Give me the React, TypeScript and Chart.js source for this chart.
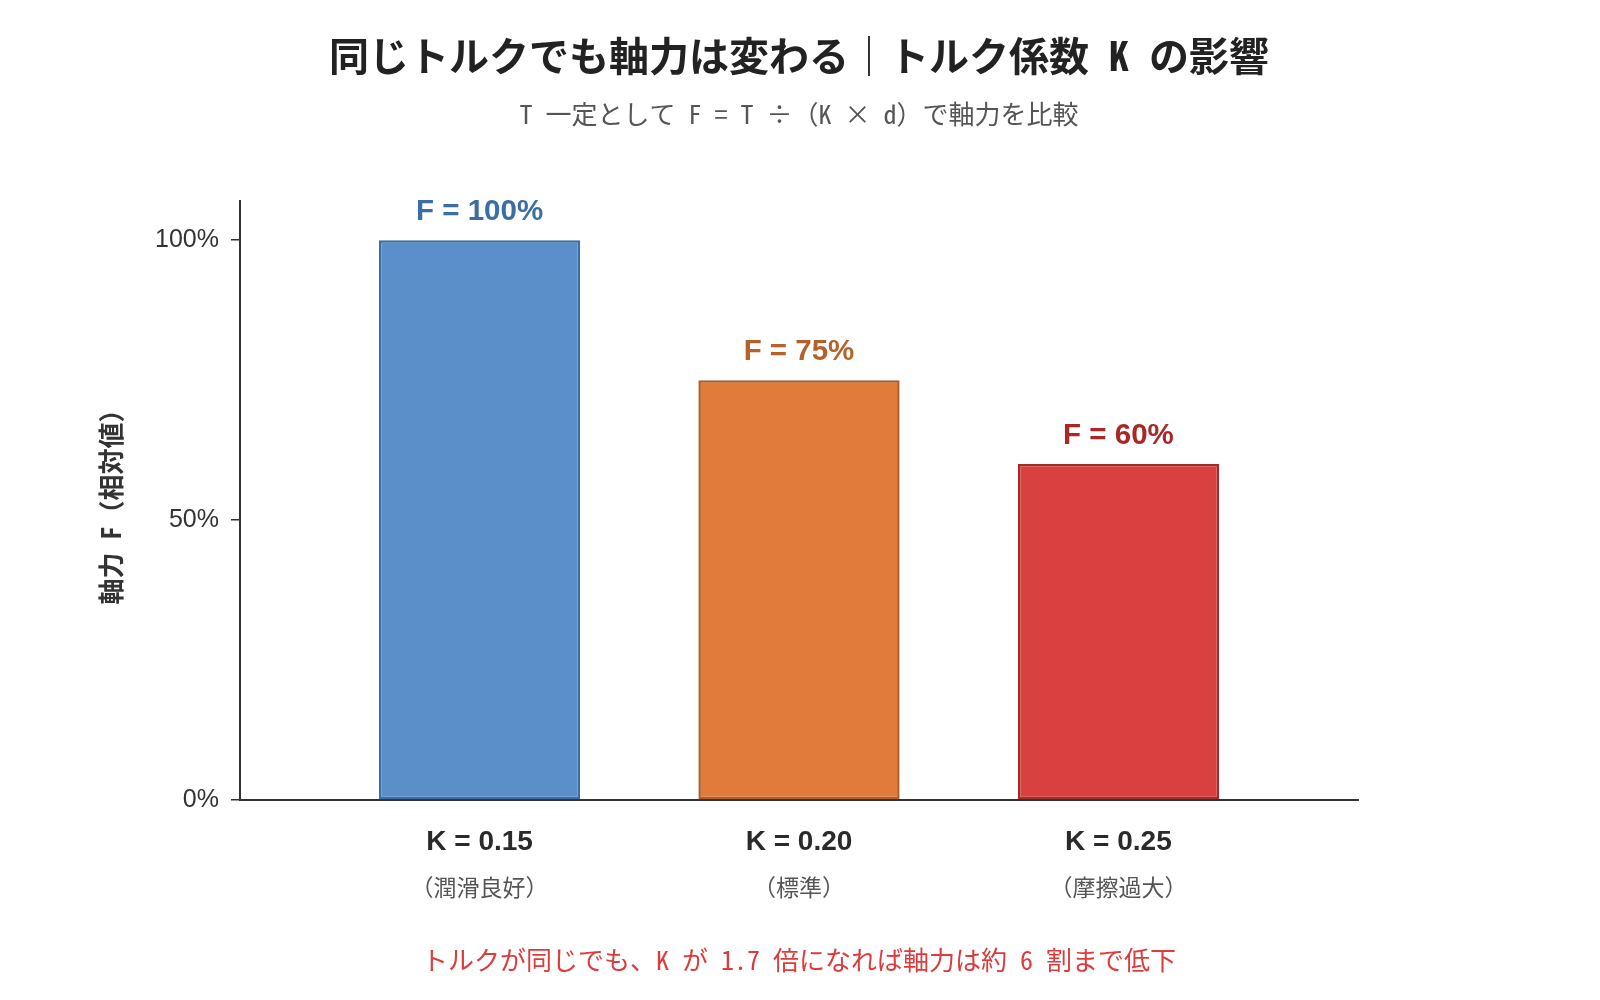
import { useEffect, useRef } from "react";
import { Chart, registerables } from "chart.js";

Chart.register(...registerables);

const kLabels = ["K = 0.15", "K = 0.20", "K = 0.25"];
const conditionLabels = ["（潤滑良好）", "（標準）", "（摩擦過大）"];
const forceValues = [100, 75, 60];
const yTickValues = [0, 50, 100];

const TITLE = "同じトルクでも軸力は変わる｜トルク係数 K の影響";
const SUBTITLE = "T 一定として F = T ÷（K × d）で軸力を比較";
const NOTE = "トルクが同じでも、K が 1.7 倍になれば軸力は約 6 割まで低下";
const Y_TITLE = "軸力 F（相対値）";

const fillColors = ["#5b8fc9", "#e07b3a", "#d94141"];
const borderColors = ["#3c6ea6", "#b05c28", "#a52a2a"];
const labelColors = ["#3a6ea5", "#b5612a", "#a82828"];

const JP = '"Noto Sans Mono CJK JP", "Noto Sans CJK JP", "Noto Sans", sans-serif';
const LAT = '"Liberation Sans", Arial, sans-serif';

const textPlugin = {
  id: "texts",
  afterDatasetsDraw(chart: any) {
    const { ctx, chartArea } = chart;
    const cx = (chartArea.left + chartArea.right) / 2;
    ctx.save();
    ctx.textAlign = "center";
    ctx.textBaseline = "middle";

    ctx.fillStyle = "#222";
    ctx.font = `bold 40px ${JP}`;
    ctx.fillText(TITLE, cx, 56);

    ctx.fillStyle = "#555";
    ctx.font = `26px ${JP}`;
    ctx.fillText(SUBTITLE, cx, 114);

    // value labels above bars
    const meta = chart.getDatasetMeta(0);
    meta.data.forEach((bar: any, i: number) => {
      ctx.fillStyle = labelColors[i];
      ctx.font = `bold 29.5px ${LAT}`;
      ctx.fillText(`F = ${forceValues[i]}%`, bar.x, bar.y - 28);
    });

    // category labels
    const xScale = chart.scales.x;
    kLabels.forEach((k, i) => {
      const x = xScale.getPixelForValue(i);
      ctx.fillStyle = "#2a2a2a";
      ctx.font = `bold 28px ${LAT}`;
      ctx.fillText(k, x, chartArea.bottom + 42);
      ctx.fillStyle = "#555";
      ctx.font = `23px ${JP}`;
      ctx.fillText(conditionLabels[i], x, chartArea.bottom + 87);
    });

    ctx.fillStyle = "#dc3c3c";
    ctx.font = `26px ${JP}`;
    ctx.fillText(NOTE, cx, 960);
    ctx.restore();
  },
};

export default function App() {
  const canvasRef = useRef<HTMLCanvasElement>(null);
  const chartRef = useRef<Chart | null>(null);

  useEffect(() => {
    document.body.style.margin = "0";
    if (!canvasRef.current) return;
    chartRef.current?.destroy();

    chartRef.current = new Chart(canvasRef.current, {
      type: "bar",
      data: {
        datasets: [
          {
            data: forceValues.map((v, i) => ({ x: i, y: v })),
            backgroundColor: fillColors,
            borderColor: borderColors,
            borderWidth: 2.5,
            borderSkipped: false,
            barPercentage: 0.63,
            categoryPercentage: 1,
          },
        ],
      },
      options: {
        responsive: false,
        animation: false,
        layout: { padding: { top: 201, right: 242, left: 0, bottom: 0 } },
        plugins: {
          legend: { display: false },
          tooltip: { enabled: false },
        },
        scales: {
          x: {
            type: "linear",
            offset: false,
            min: -0.75,
            max: 2.75,
            afterBuildTicks: (scale: any) => {
              scale.ticks = kLabels.map((_, i) => ({ value: i }));
            },
            afterFit: (scale: any) => {
              scale.height = 200;
            },
            ticks: { display: false },
            grid: { display: false, offset: false },
            border: { display: true, color: "#333", width: 2 },
          },
          y: {
            min: 0,
            max: 107,
            afterBuildTicks: (scale: any) => {
              scale.ticks = yTickValues.map((v) => ({ value: v }));
            },
            afterFit: (scale: any) => {
              scale.width = 240;
            },
            ticks: {
              callback: (v) => `${v}%`,
              color: "#333",
              font: { family: LAT, size: 25 },
              padding: 12,
            },
            grid: {
              drawOnChartArea: false,
              drawTicks: true,
              tickLength: 9,
              color: "#333",
              lineWidth: 1.5,
            },
            border: { display: true, color: "#333", width: 2 },
            title: {
              display: true,
              text: Y_TITLE,
              color: "#333",
              font: { family: JP, size: 26, weight: "bold" },
              padding: { top: 96, bottom: 0 },
            },
          },
        },
      },
      plugins: [textPlugin],
    });

    return () => {
      chartRef.current?.destroy();
      chartRef.current = null;
    };
  }, []);

  return (
    <div style={{ width: 1600, height: 1000, background: "#fff" }}>
      <canvas ref={canvasRef} width={1600} height={1000} />
    </div>
  );
}
